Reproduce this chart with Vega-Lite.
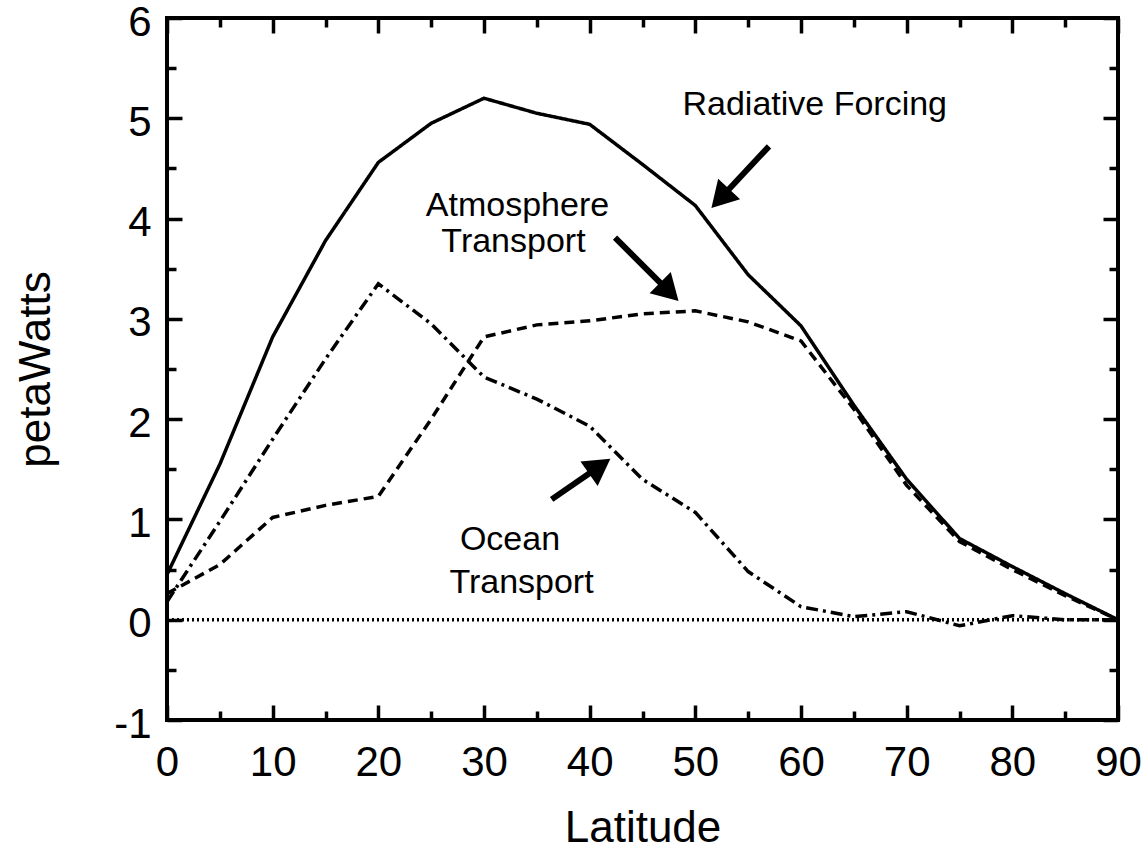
{
  "$schema": "https://vega.github.io/schema/vega-lite/v6.json",
  "width": 951,
  "height": 702,
  "autosize": "none",
  "padding": {"left": 167, "top": 18, "right": 30, "bottom": 129},
  "background": "white",
  "config": {
    "view": {"stroke": "black", "strokeWidth": 4},
    "font": "Liberation Sans",
    "axis": {"grid": false, "domain": false, "tickColor": "black", "tickWidth": 3.5, "labelColor": "black", "titleColor": "black", "labelFontSize": 42, "titleFontSize": 44, "titleFontWeight": "normal", "labelFont": "Liberation Sans", "titleFont": "Liberation Sans", "labelFlush": false}
  },
  "datasets": {
    "curves": [
      {"lat": 0, "value": 0.45, "series": "Radiative Forcing"},
      {"lat": 5, "value": 1.55, "series": "Radiative Forcing"},
      {"lat": 10, "value": 2.82, "series": "Radiative Forcing"},
      {"lat": 15, "value": 3.78, "series": "Radiative Forcing"},
      {"lat": 20, "value": 4.56, "series": "Radiative Forcing"},
      {"lat": 25, "value": 4.95, "series": "Radiative Forcing"},
      {"lat": 30, "value": 5.2, "series": "Radiative Forcing"},
      {"lat": 35, "value": 5.05, "series": "Radiative Forcing"},
      {"lat": 40, "value": 4.94, "series": "Radiative Forcing"},
      {"lat": 45, "value": 4.54, "series": "Radiative Forcing"},
      {"lat": 50, "value": 4.13, "series": "Radiative Forcing"},
      {"lat": 55, "value": 3.44, "series": "Radiative Forcing"},
      {"lat": 60, "value": 2.93, "series": "Radiative Forcing"},
      {"lat": 65, "value": 2.14, "series": "Radiative Forcing"},
      {"lat": 70, "value": 1.4, "series": "Radiative Forcing"},
      {"lat": 75, "value": 0.81, "series": "Radiative Forcing"},
      {"lat": 80, "value": 0.53, "series": "Radiative Forcing"},
      {"lat": 85, "value": 0.26, "series": "Radiative Forcing"},
      {"lat": 90, "value": 0.0, "series": "Radiative Forcing"},
      {"lat": 0, "value": 0.26, "series": "Atmosphere Transport"},
      {"lat": 5, "value": 0.55, "series": "Atmosphere Transport"},
      {"lat": 10, "value": 1.02, "series": "Atmosphere Transport"},
      {"lat": 15, "value": 1.14, "series": "Atmosphere Transport"},
      {"lat": 20, "value": 1.23, "series": "Atmosphere Transport"},
      {"lat": 25, "value": 2.0, "series": "Atmosphere Transport"},
      {"lat": 30, "value": 2.82, "series": "Atmosphere Transport"},
      {"lat": 35, "value": 2.94, "series": "Atmosphere Transport"},
      {"lat": 40, "value": 2.98, "series": "Atmosphere Transport"},
      {"lat": 45, "value": 3.05, "series": "Atmosphere Transport"},
      {"lat": 50, "value": 3.08, "series": "Atmosphere Transport"},
      {"lat": 55, "value": 2.97, "series": "Atmosphere Transport"},
      {"lat": 60, "value": 2.78, "series": "Atmosphere Transport"},
      {"lat": 65, "value": 2.1, "series": "Atmosphere Transport"},
      {"lat": 70, "value": 1.34, "series": "Atmosphere Transport"},
      {"lat": 75, "value": 0.78, "series": "Atmosphere Transport"},
      {"lat": 80, "value": 0.5, "series": "Atmosphere Transport"},
      {"lat": 85, "value": 0.24, "series": "Atmosphere Transport"},
      {"lat": 90, "value": 0.0, "series": "Atmosphere Transport"},
      {"lat": 0, "value": 0.18, "series": "Ocean Transport"},
      {"lat": 5, "value": 0.98, "series": "Ocean Transport"},
      {"lat": 10, "value": 1.8, "series": "Ocean Transport"},
      {"lat": 15, "value": 2.6, "series": "Ocean Transport"},
      {"lat": 20, "value": 3.35, "series": "Ocean Transport"},
      {"lat": 25, "value": 2.95, "series": "Ocean Transport"},
      {"lat": 30, "value": 2.42, "series": "Ocean Transport"},
      {"lat": 35, "value": 2.2, "series": "Ocean Transport"},
      {"lat": 40, "value": 1.93, "series": "Ocean Transport"},
      {"lat": 45, "value": 1.4, "series": "Ocean Transport"},
      {"lat": 50, "value": 1.07, "series": "Ocean Transport"},
      {"lat": 55, "value": 0.48, "series": "Ocean Transport"},
      {"lat": 60, "value": 0.13, "series": "Ocean Transport"},
      {"lat": 65, "value": 0.03, "series": "Ocean Transport"},
      {"lat": 70, "value": 0.08, "series": "Ocean Transport"},
      {"lat": 75, "value": -0.06, "series": "Ocean Transport"},
      {"lat": 80, "value": 0.04, "series": "Ocean Transport"},
      {"lat": 85, "value": 0.0, "series": "Ocean Transport"},
      {"lat": 90, "value": 0.0, "series": "Ocean Transport"},
      {"lat": 0, "value": 0, "series": "Zero"},
      {"lat": 90, "value": 0, "series": "Zero"}
    ],
    "labels": [
      {"lat": 61.3, "value": 5.13, "text": "Radiative Forcing"},
      {"lat": 33.17, "value": 4.13, "text": "Atmosphere"},
      {"lat": 32.79, "value": 3.77, "text": "Transport"},
      {"lat": 32.46, "value": 0.79, "text": "Ocean"},
      {"lat": 33.55, "value": 0.37, "text": "Transport"}
    ],
    "arrows": [
      {"lat": 56.97, "value": 4.72, "lat2": 52.36, "value2": 4.2, "angle": 223},
      {"lat": 42.4, "value": 3.81, "lat2": 47.54, "value2": 3.27, "angle": 135},
      {"lat": 36.4, "value": 1.2, "lat2": 40.95, "value2": 1.53, "angle": 55}
    ]
  },
  "layer": [
    {
      "data": {"name": "curves"},
      "mark": {"type": "line", "color": "black", "strokeWidth": 3.5},
      "encoding": {
        "x": {"field": "lat", "type": "quantitative", "scale": {"domain": [0, 90], "nice": false},
          "axis": {"orient": "bottom", "title": "Latitude", "values": [0,5,10,15,20,25,30,35,40,45,50,55,60,65,70,75,80,85,90],
            "labelExpr": "datum.value % 10 === 0 ? toString(datum.value) : ''",
            "tickSize": {"condition": {"test": "datum.value % 10 === 0", "value": -15}, "value": -9},
            "labelFlush": false, "labelPadding": 37, "titlePadding": 23}},
        "y": {"field": "value", "type": "quantitative", "scale": {"domain": [-1, 6], "nice": false},
          "axis": {"orient": "left", "title": "petaWatts", "values": [-1,-0.5,0,0.5,1,1.5,2,2.5,3,3.5,4,4.5,5,5.5,6],
            "labelExpr": "datum.value % 1 === 0 ? toString(datum.value) : ''",
            "tickSize": {"condition": {"test": "datum.value % 1 === 0", "value": -15}, "value": -9},
            "labelFlush": false, "labelOffset": 4, "labelPadding": 31, "titlePadding": 55}},
        "detail": {"field": "series"},
        "strokeDash": {"field": "series", "type": "nominal",
          "scale": {"domain": ["Radiative Forcing", "Atmosphere Transport", "Ocean Transport", "Zero"], "range": [[1, 0], [10, 6], [12, 5, 3, 5], [2, 3]]},
          "legend": null}
      }
    },
    {
      "data": {"name": "curves"},
      "mark": {"type": "line", "opacity": 0},
      "encoding": {
        "x": {"field": "lat", "type": "quantitative",
          "axis": {"orient": "top", "title": null, "labels": false, "values": [0,5,10,15,20,25,30,35,40,45,50,55,60,65,70,75,80,85,90],
            "tickSize": {"condition": {"test": "datum.value % 10 === 0", "value": -15}, "value": -9}}},
        "y": {"field": "value", "type": "quantitative",
          "axis": {"orient": "right", "title": null, "labels": false, "values": [-1,-0.5,0,0.5,1,1.5,2,2.5,3,3.5,4,4.5,5,5.5,6],
            "tickSize": {"condition": {"test": "datum.value % 1 === 0", "value": -15}, "value": -9}}},
        "detail": {"field": "series"}
      }
    },
    {
      "data": {"name": "labels"},
      "mark": {"type": "text", "fontSize": 34, "font": "Liberation Sans", "color": "black", "align": "center", "baseline": "middle"},
      "encoding": {
        "x": {"field": "lat", "type": "quantitative", "axis": null},
        "y": {"field": "value", "type": "quantitative", "axis": null},
        "text": {"field": "text"}
      }
    },
    {
      "data": {"name": "arrows"},
      "mark": {"type": "rule", "color": "black", "strokeWidth": 6},
      "encoding": {
        "x": {"field": "lat", "type": "quantitative", "axis": null},
        "y": {"field": "value", "type": "quantitative", "axis": null},
        "x2": {"field": "lat2"},
        "y2": {"field": "value2"}
      }
    },
    {
      "data": {"name": "arrows"},
      "mark": {"type": "point", "shape": "triangle-up", "filled": true, "color": "black", "opacity": 1, "size": 900},
      "encoding": {
        "x": {"field": "lat2", "type": "quantitative", "axis": null},
        "y": {"field": "value2", "type": "quantitative", "axis": null},
        "angle": {"field": "angle", "type": "quantitative", "scale": null}
      }
    }
  ]
}
